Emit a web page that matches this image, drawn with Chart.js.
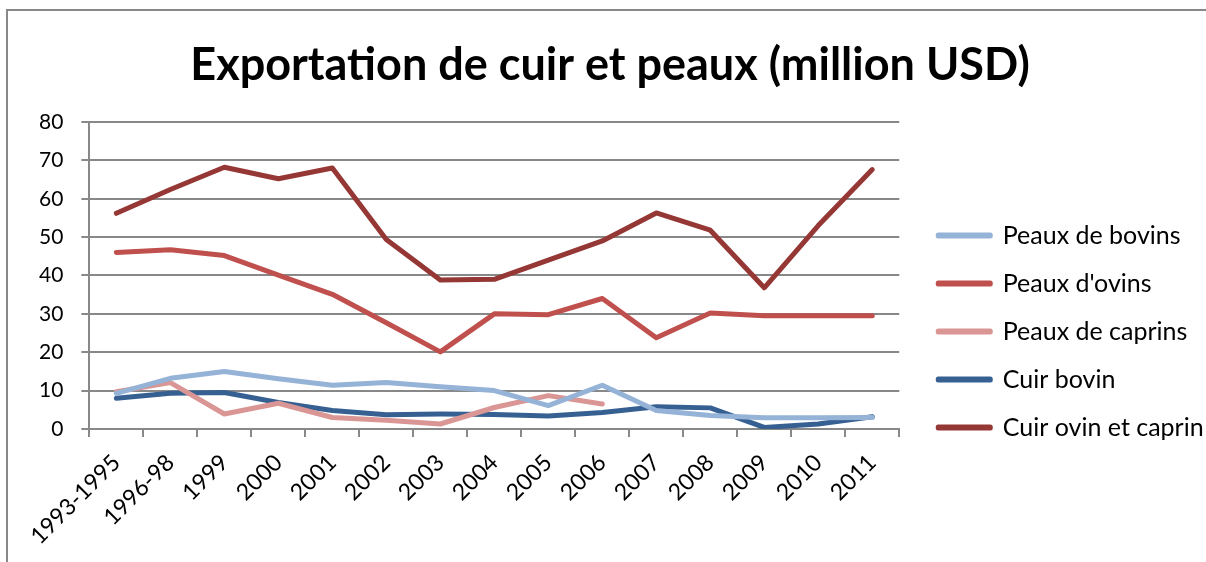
<!DOCTYPE html>
<html><head><meta charset="utf-8">
<script src="https://cdn.jsdelivr.net/npm/chart.js@4"></script>
<style>html,body{margin:0;padding:0;background:#fff}</style></head>
<body>
<canvas id="c" width="1206" height="562"></canvas>
<script>
const categories = ['1993-1995','1996-98','1999','2000','2001','2002','2003','2004','2005','2006','2007','2008','2009','2010','2011'];
const peauxBovins   = [9.3, 13.2, 15.0, 13.1, 11.4, 12.1, 11.0, 10.0, 6.1, 11.4, 4.8, 3.5, 2.9, 2.9, 3.0];
const peauxOvins    = [46.0, 46.7, 45.2, 40.1, 35.1, 27.7, 20.1, 30.0, 29.8, 34.0, 23.8, 30.2, 29.5, 29.5, 29.5];
const peauxCaprins  = [9.7, 12.1, 3.9, 6.7, 3.0, 2.3, 1.3, 5.6, 8.7, 6.5, null, null, null, null, null];
const cuirBovin     = [8.0, 9.3, 9.5, 6.9, 4.8, 3.7, 3.9, 3.8, 3.4, 4.3, 5.8, 5.5, 0.4, 1.3, 3.2];
const cuirOvinCaprin= [56.2, 62.4, 68.2, 65.2, 68.0, 49.4, 38.8, 39.0, 44.0, 49.0, 56.3, 51.8, 36.8, 53.0, 67.6];
const seriesNames = ['Peaux de bovins', "Peaux d'ovins", 'Peaux de caprins', 'Cuir bovin', 'Cuir ovin et caprin'];
const yTicks = [0,10,20,30,40,50,60,70,80];

const colors = ['#95b3d7', '#c0504d', '#d99694', '#376092', '#953735'];
const values = [peauxBovins, peauxOvins, peauxCaprins, cuirBovin, cuirOvinCaprin];
const FONT = 'Lato, "Open Sans", sans-serif';

const frame = {
  id: 'frame',
  beforeDraw(chart) {
    const ctx = chart.ctx;
    ctx.save();
    ctx.fillStyle = '#fff';
    ctx.fillRect(0, 0, chart.width, chart.height);
    ctx.strokeStyle = '#888';
    ctx.lineWidth = 2;
    ctx.beginPath();
    ctx.moveTo(7, chart.height);
    ctx.lineTo(7, 10);
    ctx.lineTo(chart.width, 10);
    ctx.stroke();
    ctx.restore();
  }
};

// place legend block and title as in the original layout
const blockShift = {
  id: 'blockShift',
  afterLayout(chart) {
    const L = chart.legend;
    const dx = 16;
    const dy = (chart.chartArea.top + 78) - L.top;
    L.left += dx; L.right += dx;
    L.top += dy; L.bottom += dy;
    const T = chart.titleBlock;
    const tc = (T.left + T.right) / 2;
    const td = 610 - tc;
    T.left += td; T.right += td;
  }
};

new Chart(document.getElementById('c'), {
  type: 'line',
  data: {
    labels: categories,
    datasets: seriesNames.map((n, i) => ({
      label: n,
      data: values[i],
      borderColor: colors[i],
      backgroundColor: colors[i],
      borderWidth: 5,
      pointRadius: 0,
      pointHoverRadius: 0,
      tension: 0,
      borderCapStyle: 'round',
      borderJoinStyle: 'round',
      spanGaps: false
    }))
  },
  options: {
    responsive: false,
    animation: false,
    layout: { padding: { left: 21, right: 14, top: 0, bottom: 0 } },
    plugins: {
      title: {
        display: true,
        text: 'Exportation de cuir et peaux (million USD)',
        color: '#000',
        font: { family: FONT, size: 45, weight: 'bold' },
        padding: { top: 38, bottom: 30 }
      },
      legend: {
        position: 'right',
        align: 'start',
        labels: {
          boxWidth: 52,
          boxHeight: 1,
          padding: 23,
          color: '#000',
          font: { family: FONT, size: 25 }
        }
      },
      tooltip: { enabled: false }
    },
    scales: {
      x: {
        offset: true,
        grid: { offset: true, drawOnChartArea: false, drawTicks: true, tickLength: 8, color: '#888', lineWidth: 2 },
        border: { color: '#888', width: 2 },
        ticks: { minRotation: 45, maxRotation: 45, autoSkip: false, color: '#000', padding: 12, font: { family: FONT, size: 23 } }
      },
      y: {
        min: 0, max: 80,
        afterBuildTicks: (s) => { s.ticks = yTicks.map(v => ({ value: v })); },
        grid: { color: '#888', lineWidth: 2, tickLength: 8 },
        border: { color: '#888', width: 2 },
        ticks: { color: '#000', padding: 18, font: { family: FONT, size: 21 } }
      }
    }
  },
  plugins: [frame, blockShift]
});
</script>
</body></html>
